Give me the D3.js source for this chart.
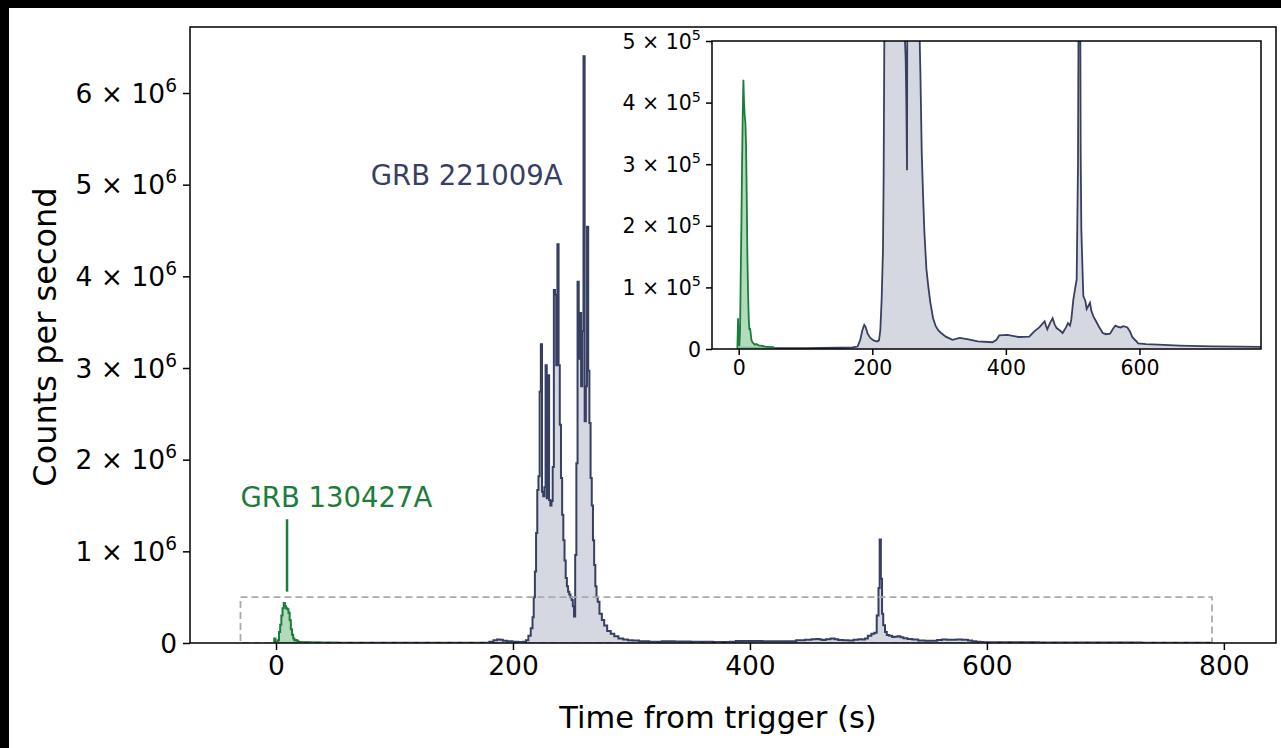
<!DOCTYPE html>
<html><head><meta charset="utf-8">
<script src="https://cdn.jsdelivr.net/npm/d3@7"></script>
<style>body{margin:0;background:#000;} svg{display:block}</style>
</head><body><svg id="c" width="1281" height="748"></svg>
<script>
// ---- data ----
const burstName = "GRB 221009A";
const burstTime = [0,20,50,100,150,170,178,182,185,188,190,193,197,202,207,210,212,214,216,217,218,219,220,221,222,223,224,225,226,227,228,229,230,231,232,233,234,235,236,237,238,239,240,241,242,243,244,245,246,247,248,249,250,251,252,253,254,255,256,257,258,259,260,261,262,263,264,265,266,267,268,269,270,271,272,274,276,278,281,284,287,291,295,299,303,310,320,331,342,358,380,386,390,402,419,435,443,450,454,458,460,462,466,470,473,476,481,485,490,493,496,498,501,504,506,508,509,510,511,512,513,515,516,519,521,523,526,528,531,535,539,545,550,556,560,564,568,572,576,582,586,589,593,596,598,610,628,660,710,750,790];
const burstRate = [2e3,2e3,1.5e3,1.5e3,2e3,2.5e3,4e3,15e3,30e3,39e3,36e3,25e3,18e3,14e3,12e3,14e3,30e3,80e3,160e3,280e3,500e3,780e3,1.2e6,1.67e6,1.82e6,2.74e6,3.26e6,1.65e6,1.6e6,1.7e6,3.03e6,1.58e6,2.92e6,1.56e6,1.5e6,1.55e6,1.92e6,3.85e6,3.8e6,3.03e6,4.35e6,3.03e6,2.38e6,1.8e6,1.4e6,1.12e6,0.9e6,0.71e6,0.62e6,0.56e6,0.53e6,0.5e6,0.47e6,0.4e6,0.29e6,0.96e6,1.96e6,3.94e6,3.1e6,3.6e6,2.8e6,3.4e6,6.4e6,2.42e6,2.8e6,4.54e6,2.97e6,2.4e6,1.8e6,1.5e6,1.12e6,0.85e6,0.62e6,0.5e6,0.45e6,0.32e6,0.25e6,0.19e6,0.13e6,0.1e6,75e3,50e3,37e3,30e3,26e3,20e3,15e3,18e3,16e3,12.5e3,11e3,15e3,22e3,23e3,19.5e3,20e3,29e3,35e3,40e3,45e3,38e3,32e3,42e3,50e3,40e3,34e3,30e3,26e3,35e3,42e3,38e3,48e3,80e3,100e3,113e3,300e3,600e3,1.13e6,700e3,320e3,194e3,120e3,86e3,78e3,65e3,69e3,75e3,62e3,53e3,45e3,37e3,26e3,24e3,25e3,32e3,38e3,36e3,35e3,37e3,35e3,28e3,20e3,15e3,12e3,9e3,8e3,7e3,5.5e3,4.3e3,4e3,3.5e3];
const refName = "GRB 130427A";
const refTime = [-2,-1,0,1,2,3,4,5,6,7,8,9,10,11,12,13,14,15,16,17,18,19,20,22,24,26,28,30,35,40,45,50,53];
const refRate = [0,50e3,10e3,5e3,30e3,120e3,200e3,300e3,380e3,437e3,400e3,378e3,367e3,330e3,248e3,150e3,91e3,50e3,31e3,34e3,25e3,15e3,12e3,9e3,7e3,8e3,7e3,6e3,5e3,4e3,3.5e3,3e3,3e3];
const mainXTicks = [0,200,400,600,800];
const mainYTicks = [0,1e6,2e6,3e6,4e6,5e6,6e6];
const insetXTicks = [0,200,400,600];
const insetYTicks = [0,1e5,2e5,3e5,4e5,5e5];
const zoomBox = {t0:-30, t1:790, v1:5e5};
const xLabel = "Time from trigger (s)";
const yLabel = "Counts per second";

const navy = "#373f63", navyFill = "#d5d8e0", green = "#1b7d3b", greenFill = "#9dd2aa";

const svg = d3.select("#c");
svg.append("rect").attr("x",9).attr("y",8).attr("width",1272).attr("height",740).attr("fill","#fff");

const burst = burstTime.map((t,i)=>({t, v:burstRate[i]}));
const ref = refTime.map((t,i)=>({t, v:refRate[i]}));

function sciLabels(sel, exp){
  sel.selectAll(".tick text").each(function(d){
    const t = d3.select(this); t.text(null);
    if (d===0){ t.text("0"); return; }
    const m = Math.round(d/Math.pow(10,exp));
    t.append("tspan").text(m+" \u00d7 10");
    t.append("tspan").attr("dy","-0.6em").attr("font-size","0.7em").text(exp);
  });
}
function styleAxis(g, fs){
  g.selectAll("path").remove();
  g.selectAll(".tick line").attr("stroke","#000").attr("stroke-width",1.5);
  g.selectAll(".tick text").attr("fill","#000").attr("font-size",fs).attr("font-family","DejaVu Sans");
}

// ---- main panel ----
const L=190,R=1276,T=27,B=643;
const x = d3.scaleLinear([-72.6,844],[L,R]);
const y = d3.scaleLinear([0,6.72e6],[B,T]);
const main = svg.append("g");
main.append("clipPath").attr("id","mclip").append("rect").attr("x",L).attr("y",T).attr("width",R-L).attr("height",B-T);
const pm = main.append("g").attr("clip-path","url(#mclip)");
const areaM = d3.area().curve(d3.curveStep).x(d=>x(d.t)).y0(y(0)).y1(d=>y(d.v));
const lineM = d3.line().curve(d3.curveStep).x(d=>x(d.t)).y(d=>y(d.v));
pm.append("path").attr("d",areaM(burst)).attr("fill",navyFill);
pm.append("path").attr("d",lineM(burst)).attr("fill","none").attr("stroke",navy).attr("stroke-width",2);
pm.append("path").attr("d",areaM(ref)).attr("fill",greenFill).attr("opacity",0.8);
pm.append("path").attr("d",lineM(ref)).attr("fill","none").attr("stroke",green).attr("stroke-width",2);
pm.append("rect").attr("x",x(zoomBox.t0)).attr("y",y(zoomBox.v1)).attr("width",x(zoomBox.t1)-x(zoomBox.t0)).attr("height",y(0)-y(zoomBox.v1))
  .attr("fill","none").attr("stroke","#aaa").attr("stroke-width",1.8).attr("stroke-dasharray","7,4");
main.append("rect").attr("x",L).attr("y",T).attr("width",R-L).attr("height",B-T).attr("fill","none").attr("stroke","#000").attr("stroke-width",1.5);
const gx = main.append("g").attr("transform",`translate(0,${B})`).call(d3.axisBottom(x).tickValues(mainXTicks).tickSize(7).tickPadding(6));
styleAxis(gx,"26.5px");
const gy = main.append("g").attr("transform",`translate(${L},0)`).call(d3.axisLeft(y).tickValues(mainYTicks).tickSize(7).tickPadding(6));
styleAxis(gy,"26.5px"); sciLabels(gy,6);
gy.selectAll(".tick text").attr("dy","0.35em");
main.append("text").attr("x",718).attr("y",728).attr("text-anchor","middle").attr("font-family","DejaVu Sans").attr("font-size","30.5px").text(xLabel);
main.append("text").attr("transform","translate(56,337) rotate(-90)").attr("text-anchor","middle").attr("font-family","DejaVu Sans").attr("font-size","32px").text(yLabel);
// annotations
main.append("text").attr("x",x(80)).attr("y",y(5e6)).attr("fill",navy).attr("font-family","DejaVu Sans").attr("font-size","27.5px").text(burstName);
main.append("text").attr("x",x(-30)).attr("y",y(1.48e6)).attr("fill",green).attr("font-family","DejaVu Sans").attr("font-size","27.5px").text(refName);
main.append("line").attr("x1",x(9.3)).attr("x2",x(9.3)).attr("y1",y(1.35e6)).attr("y2",y(0.56e6)).attr("stroke",green).attr("stroke-width",2.5);

// ---- inset ----
const iL=712,iR=1261,iT=41,iB=349;
const xi = d3.scaleLinear([-40,782],[iL,iR]);
const yi = d3.scaleLinear([0,5e5],[iB,iT]);
const ins = svg.append("g");
ins.append("rect").attr("x",iL).attr("y",iT).attr("width",iR-iL).attr("height",iB-iT).attr("fill","#fff");
ins.append("clipPath").attr("id","iclip").append("rect").attr("x",iL).attr("y",iT).attr("width",iR-iL).attr("height",iB-iT);
const pi = ins.append("g").attr("clip-path","url(#iclip)");
const areaI = d3.area().x(d=>xi(d.t)).y0(yi(0)).y1(d=>yi(d.v));
const lineI = d3.line().x(d=>xi(d.t)).y(d=>yi(d.v));
pi.append("path").attr("d",areaI(burst)).attr("fill",navyFill);
pi.append("path").attr("d",lineI(burst)).attr("fill","none").attr("stroke",navy).attr("stroke-width",1.8);
pi.append("path").attr("d",areaI(ref)).attr("fill",greenFill).attr("opacity",0.8);
pi.append("path").attr("d",lineI(ref)).attr("fill","none").attr("stroke",green).attr("stroke-width",1.8);
ins.append("rect").attr("x",iL).attr("y",iT).attr("width",iR-iL).attr("height",iB-iT).attr("fill","none").attr("stroke","#000").attr("stroke-width",1.5);
const gxi = ins.append("g").attr("transform",`translate(0,${iB})`).call(d3.axisBottom(xi).tickValues(insetXTicks).tickSize(6).tickPadding(5));
styleAxis(gxi,"20.5px");
const gyi = ins.append("g").attr("transform",`translate(${iL},0)`).call(d3.axisLeft(yi).tickValues(insetYTicks).tickSize(6).tickPadding(5));
styleAxis(gyi,"20.5px"); sciLabels(gyi,5);
gyi.selectAll(".tick text").attr("dy","0.35em");
</script></body></html>
